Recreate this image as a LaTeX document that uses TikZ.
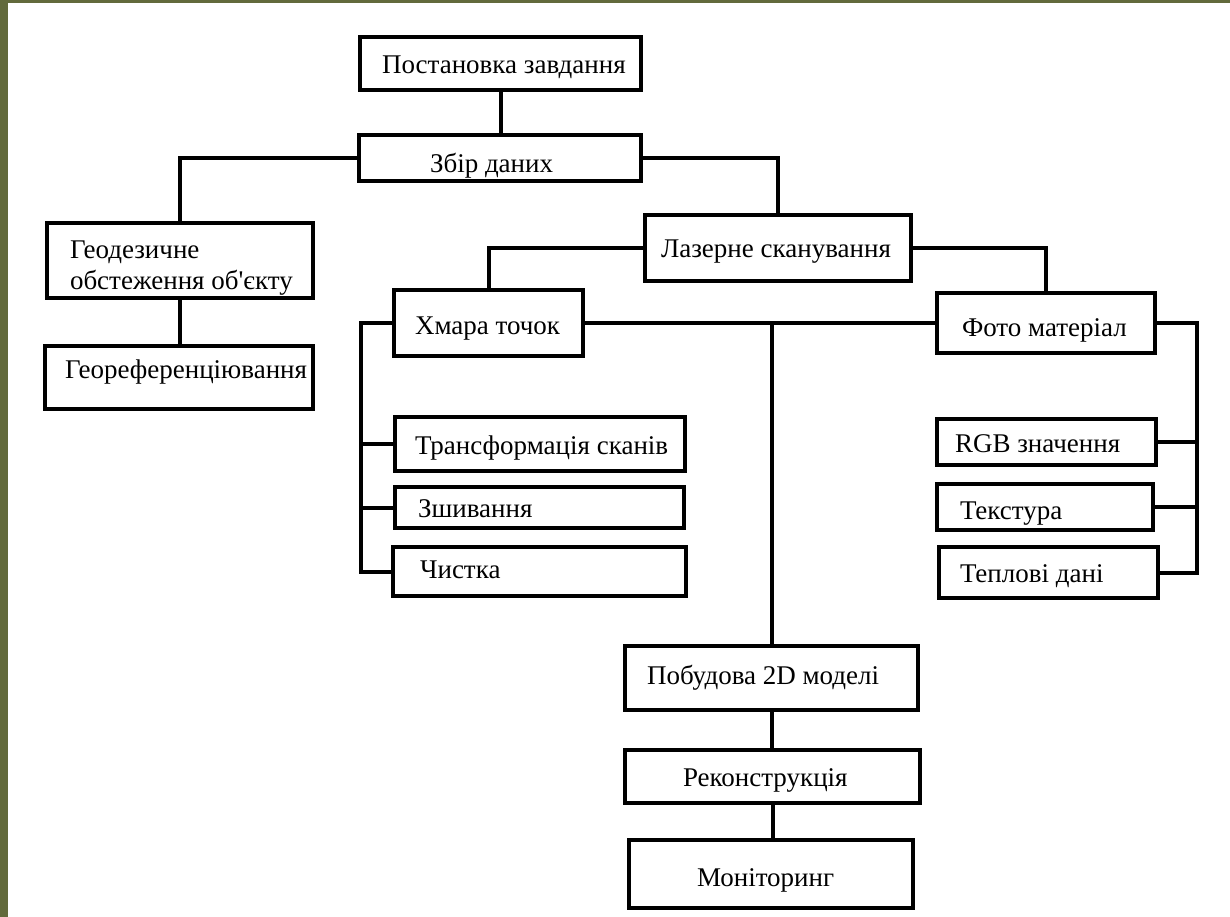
\documentclass[tikz,border=0pt]{standalone}
\usepackage{fontspec}
\setmainfont{Liberation Serif}
\definecolor{frameolive}{RGB}{98,106,60}
\tikzset{
  box/.style={draw=black, line width=4pt, inner sep=0pt, outer sep=0pt, fill=white,
    font=\fontsize{27}{31}\selectfont},
  conn/.style={draw=black, line width=4pt}
}
% name, x1, y1, x2, y2, left pad, raise, text
\newcommand\bx[8]{%
  \node[box, minimum width={(#4-#2)*1pt}, minimum height={(#5-#3)*1pt}] (#1)
    at ({(#2+#4)/2},{(#3+#5)/2})
    {\makebox[\dimexpr#4pt-#2pt\relax][l]{\hspace*{#6pt}\raisebox{#7pt}[19pt][0pt]{#8}}};}
\begin{document}
\begin{tikzpicture}[x=1pt,y=-1pt]
\useasboundingbox (0,0) rectangle (1230,917);
\fill[frameolive] (0,0) rectangle (1230,917);
\fill[white] (8,3) rectangle (1230,917);

\bx{post}{360}{37}{641}{90}{22}{-1}{Постановка завдання}
\bx{zbir}{359}{135}{641}{181}{71}{-5}{Збір даних}
\bx{geo}{47}{223}{313}{298}{23}{-4}{\begin{tabular}{@{}l@{}}Геодезичне\\обстеження об\textquotesingle єкту\end{tabular}}
\bx{georef}{45}{346}{313}{409}{20}{9}{Геореференціювання}
\bx{laz}{645}{215}{911}{281}{16}{0}{Лазерне сканування}
\bx{hmara}{394}{290}{583}{356}{21}{-2}{Хмара точок}
\bx{foto}{937}{293}{1155}{353}{25}{-4}{Фото матеріал}
\bx{trans}{395}{417}{685}{471}{20}{-1}{Трансформація сканів}
\bx{zshyv}{395}{487}{684}{528}{23}{0}{Зшивання}
\bx{chyst}{393}{547}{686}{596}{27}{3}{Чистка}
\bx{rgb}{937}{419}{1156}{465}{18}{-1}{RGB значення}
\bx{tekst}{937}{484}{1153}{530}{23}{-3}{Текстура}
\bx{tepl}{939}{547}{1158}{598}{21}{0}{Теплові дані}
\bx{pob}{625}{646}{918}{710}{22}{3}{Побудова 2D моделі}
\bx{rek}{625}{750}{920}{803}{58}{0}{Реконструкція}
\bx{mon}{629}{840}{913}{908}{68}{-3}{Моніторинг}

\coordinate (lspine) at (361,0);
\coordinate (rspine) at (1197,0);
\coordinate (junc) at (pob.north |- hmara.east);

\draw[conn] (post.south) -- (post.south |- zbir.north);
\draw[conn] (zbir.west) -| (geo.north);
\draw[conn] (zbir.east) -| (laz.north);
\draw[conn] (geo.south) -- (geo.south |- georef.north);
\draw[conn] (laz.west) -| (hmara.north);
\draw[conn] (laz.east) -| (foto.north);
\draw[conn] (hmara.east) -- (foto.west);
\draw[conn] (junc) -- (pob.north);
\draw[conn] (hmara.west) -| (lspine |- chyst.west) -- (chyst.west);
\draw[conn] (trans.west) -- (lspine |- trans.west);
\draw[conn] (zshyv.west) -- (lspine |- zshyv.west);
\draw[conn] (foto.east) -| (rspine |- tepl.east) -- (tepl.east);
\draw[conn] (rgb.east) -- (rspine |- rgb.east);
\draw[conn] (tekst.east) -- (rspine |- tekst.east);
\draw[conn] (pob.south) -- (pob.south |- rek.north);
\draw[conn] (rek.south) -- (rek.south |- mon.north);
\end{tikzpicture}
\end{document}
